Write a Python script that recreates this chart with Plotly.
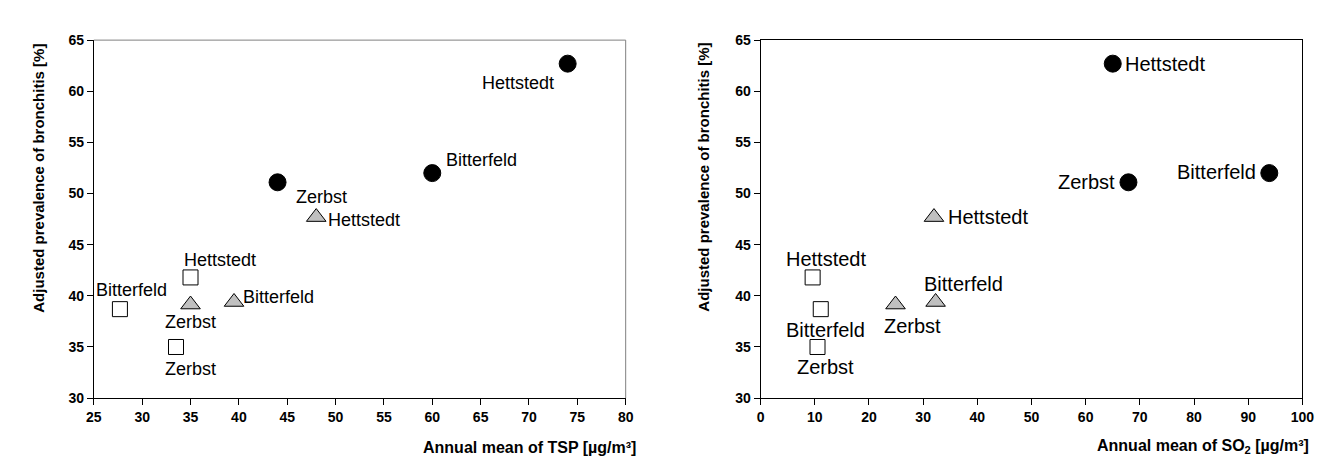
import plotly.graph_objects as go

# ---- data ----
cities = ["Hettstedt", "Bitterfeld", "Zerbst"]
# adjusted prevalence of bronchitis [%]
prev_circle = [62.7, 52.0, 51.1]
prev_triangle = [47.7, 39.4, 39.15]
prev_square = [41.8, 38.7, 35.0]
# annual mean TSP [ug/m3]
tsp_circle = [74.0, 60.0, 44.0]
tsp_triangle = [48.0, 39.5, 35.0]
tsp_square = [35.0, 27.7, 33.5]
# annual mean SO2 [ug/m3]
so2_circle = [65.0, 93.9, 67.9]
so2_triangle = [32.0, 32.3, 24.9]
so2_square = [9.6, 11.1, 10.5]

FONT = "Liberation Sans, Arial, Helvetica, sans-serif"

groups = [
    dict(prev=prev_circle, tsp=tsp_circle, so2=so2_circle,
         symbol="circle", size=17, fill="#000000"),
    dict(prev=prev_triangle, tsp=tsp_triangle, so2=so2_triangle,
         symbol="triangle-up", size=17, fill="#c0c0c0"),
    dict(prev=prev_square, tsp=tsp_square, so2=so2_square,
         symbol="square", size=15, fill="#ffffff"),
]

fig = go.Figure()
for g in groups:
    for xkey, xa, ya in (("tsp", "x", "y"), ("so2", "x2", "y2")):
        fig.add_trace(go.Scatter(
            x=g[xkey], y=g["prev"], mode="markers", xaxis=xa, yaxis=ya,
            marker=dict(symbol=g["symbol"], size=g["size"], color=g["fill"],
                        line=dict(color="#000000", width=1)),
            showlegend=False, hoverinfo="skip"))

# label placement styles: (xanchor, xshift, yshift) per group & city order
left_style = [
    [("right", -12, -19), ("left", 12, 13), ("left", 16, -15)],
    [("left", 10, -3), ("left", 7, 5), ("center", 0, -17)],
    [("center", 29, 17), ("center", 12, 19), ("center", 14, -22)],
]
right_style = [
    [("left", 10, 0), ("right", -11, 1), ("right", -11, 0)],
    [("left", 12, 0), ("center", 28, 18), ("center", 17, -21)],
    [("center", 13, 18), ("center", 5, -21), ("center", 8, -20)],
]

annotations = []
for gi, g in enumerate(groups):
    for ci, city in enumerate(cities):
        xa, xs, ys = left_style[gi][ci]
        annotations.append(dict(
            x=g["tsp"][ci], y=g["prev"][ci], xref="x", yref="y", text=city,
            showarrow=False, xanchor=xa, yanchor="middle", xshift=xs, yshift=ys,
            font=dict(family=FONT, size=18, color="#000000")))
        xa, xs, ys = right_style[gi][ci]
        annotations.append(dict(
            x=g["so2"][ci], y=g["prev"][ci], xref="x2", yref="y2", text=city,
            showarrow=False, xanchor=xa, yanchor="middle", xshift=xs, yshift=ys,
            font=dict(family=FONT, size=20, color="#000000")))

ytitle_font = dict(family=FONT, size=15, color="#000000", weight="bold")
xtitle_font = dict(family=FONT, size=16, color="#000000", weight="bold")
W, H = 1329, 457
annotations += [
    dict(text="Adjusted prevalence of bronchitis [%]", textangle=-90,
         x=22 / W, y=(H - 168) / H, xref="paper", yref="paper",
         showarrow=False, xanchor="center", yanchor="middle", font=ytitle_font),
    dict(text="Adjusted prevalence of bronchitis [%]", textangle=-90,
         x=698 / W, y=(H - 167) / H, xref="paper", yref="paper",
         showarrow=False, xanchor="center", yanchor="middle", font=ytitle_font),
    dict(text="Annual mean of TSP [µg/m³]",
         x=631 / W, y=(H - 447) / H, xref="paper", yref="paper",
         showarrow=False, xanchor="right", yanchor="middle", font=xtitle_font),
    dict(text="Annual mean of SO<sub>2</sub> [µg/m³]",
         x=1315 / W, y=(H - 446) / H, xref="paper", yref="paper",
         showarrow=False, xanchor="right", yanchor="middle", font=xtitle_font),
]

tick_font = dict(family=FONT, size=14, color="#000000", weight="bold")
axis_common = dict(showgrid=False, zeroline=False, showline=True,
                   linecolor="#000000", linewidth=1, ticks="outside",
                   ticklen=6, tickcolor="#000000", tickfont=tick_font)
ydom = [(H - 396) / H, (H - 25) / H]

fig.update_layout(
    width=W, height=H, margin=dict(l=0, r=0, t=0, b=0),
    paper_bgcolor="#ffffff", plot_bgcolor="#ffffff",
    xaxis=dict(domain=[79 / W, 619 / W], range=[25, 80], dtick=5, tick0=25,
               anchor="y", mirror=False, **axis_common),
    yaxis=dict(domain=ydom, range=[30, 65], dtick=5, tick0=30,
               anchor="x", mirror=False, **axis_common),
    xaxis2=dict(domain=[756 / W, 1306 / W], range=[0, 100], dtick=10, tick0=0,
                anchor="y2", mirror=True, **axis_common),
    yaxis2=dict(domain=ydom, range=[30, 65], dtick=5, tick0=30,
                anchor="x2", mirror=True, **axis_common),
    annotations=annotations,
    shapes=[
        dict(type="line", xref="x domain", yref="y domain", x0=0, x1=1, y0=1, y1=1,
             line=dict(color="#808080", width=1)),
        dict(type="line", xref="x domain", yref="y domain", x0=1, x1=1, y0=0, y1=1,
             line=dict(color="#808080", width=1)),
    ],
)

fig.write_html("out.html")
